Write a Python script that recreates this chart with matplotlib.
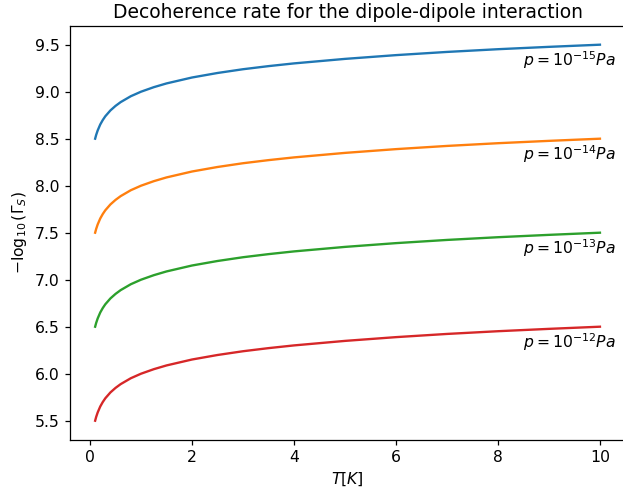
import matplotlib
matplotlib.use("Agg")
import matplotlib.pyplot as plt

# temperature samples (K) and -log10(Gamma_S)
T = [0.1, 0.12, 0.15, 0.2, 0.25, 0.3, 0.4, 0.5, 0.6, 0.8, 1.0, 1.25, 1.5,
     2.0, 2.5, 3.0, 3.5, 4.0, 5.0, 6.0, 7.0, 8.0, 9.0, 10.0]
gamma_p15 = [8.500, 8.540, 8.588, 8.651, 8.699, 8.739, 8.801, 8.849, 8.889,
             8.952, 9.000, 9.048, 9.088, 9.151, 9.199, 9.239, 9.272, 9.301,
             9.349, 9.389, 9.423, 9.452, 9.477, 9.500]
gamma_p14 = [7.500, 7.540, 7.588, 7.651, 7.699, 7.739, 7.801, 7.849, 7.889,
             7.952, 8.000, 8.048, 8.088, 8.151, 8.199, 8.239, 8.272, 8.301,
             8.349, 8.389, 8.423, 8.452, 8.477, 8.500]
gamma_p13 = [6.500, 6.540, 6.588, 6.651, 6.699, 6.739, 6.801, 6.849, 6.889,
             6.952, 7.000, 7.048, 7.088, 7.151, 7.199, 7.239, 7.272, 7.301,
             7.349, 7.389, 7.423, 7.452, 7.477, 7.500]
gamma_p12 = [5.500, 5.540, 5.588, 5.651, 5.699, 5.739, 5.801, 5.849, 5.889,
             5.952, 6.000, 6.048, 6.088, 6.151, 6.199, 6.239, 6.272, 6.301,
             6.349, 6.389, 6.423, 6.452, 6.477, 6.500]

series = [gamma_p15, gamma_p14, gamma_p13, gamma_p12]
labels = [r"$p=10^{-15}Pa$", r"$p=10^{-14}Pa$", r"$p=10^{-13}Pa$", r"$p=10^{-12}Pa$"]

# reference looks rendered ~12% larger than matplotlib defaults
s = 1.125
plt.rcParams.update({
    "font.size": 10 * s,
    "axes.titlesize": 12 * s,
    "lines.linewidth": 1.5 * s,
    "axes.linewidth": 0.8 * s,
    "xtick.major.size": 3.5 * s,
    "ytick.major.size": 3.5 * s,
    "xtick.major.width": 0.8 * s,
    "ytick.major.width": 0.8 * s,
})

fig = plt.figure(figsize=(6.23, 4.96), dpi=100)
ax = fig.add_axes([0.1122, 0.1139, 0.8913, 0.8339])

for vals, lab in zip(series, labels):
    ax.plot(T, vals)
    ax.text(8.5, vals[-1] - 0.23, lab)

ax.set_title("Decoherence rate for the dipole-dipole interaction")
ax.set_xlabel(r"$T[K]$")
ax.set_ylabel(r"$-\log_{10}(\Gamma_S)$")

plt.savefig("out.png")
